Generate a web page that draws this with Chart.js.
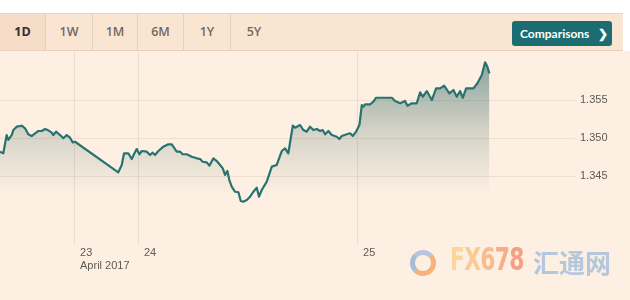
<!DOCTYPE html>
<html><head><meta charset="utf-8">
<script src="https://cdn.jsdelivr.net/npm/chart.js@4"></script>
<style>
html,body{margin:0;padding:0;width:630px;height:300px;overflow:hidden;background:#fdf0e3;font-family:"Open Sans","Liberation Sans",sans-serif}
#top{position:absolute;left:0;top:0;width:630px;height:13px;background:#fff}
#topr{position:absolute;left:623px;top:0;width:7px;height:51px;background:#fff}
#bar{position:absolute;left:0;top:13px;width:623px;height:36px;background:#fae5d2;border-top:1px solid #ecd6c2;border-bottom:1px solid #e6d0bc}
.btn{position:absolute;top:0;height:36px;line-height:36px;text-align:center;font-size:12.5px;font-weight:600;color:#726961;border-right:1px solid #e8d1bc;box-sizing:border-box}
.sel{background:#f5dcc6;color:#33302e;font-weight:700}
#cmp{position:absolute;left:512px;top:7px;width:100px;height:25px;border-radius:3px;background:#1c6d72;color:#fff;font-family:Lato,"Open Sans",sans-serif;font-weight:700;font-size:12px;line-height:25px}
#cmp span.t{position:absolute;left:8px}
#cmp span.c{position:absolute;left:86px;font-size:12px}
#wm{position:absolute;left:408px;top:245px;height:36px}
#logo{position:absolute;left:2px;top:5px;width:16px;height:16px;border-radius:50%;border:5px solid #f4b27e;border-left-color:#a9bcd6;border-top-color:#b7c6dc}
#fx{position:absolute;left:42px;top:-5px;font-family:"DejaVu Sans Condensed","DejaVu Sans",sans-serif;font-weight:bold;font-size:32px;letter-spacing:-1px;white-space:nowrap;transform:scaleX(0.76);transform-origin:left top}
#cn{position:absolute;left:125px;top:-2px;font-family:"Noto Sans CJK SC",sans-serif;font-weight:bold;font-size:26px;color:#b5c7dc;white-space:nowrap}
canvas{position:absolute;left:0;top:0}
</style></head>
<body>
<div id="top"></div>
<div id="bar">
  <div class="btn sel" style="left:0;width:46px">1D</div>
  <div class="btn" style="left:46px;width:47px">1W</div>
  <div class="btn" style="left:93px;width:45px">1M</div>
  <div class="btn" style="left:138px;width:46px">6M</div>
  <div class="btn" style="left:184px;width:47px">1Y</div>
  <div class="btn" style="left:231px;width:46px;border-right:none">5Y</div>
  <div id="cmp"><span class="t">Comparisons</span><span class="c">&#10095;</span></div>
</div>
<div id="topr"></div>
<canvas id="c" width="630" height="300"></canvas>
<div id="wm"><div id="logo"></div><div id="fx"><span style="color:#fbd69b">F</span><span style="color:#fbcb93">X</span><span style="color:#f9bb8e">6</span><span style="color:#f7ac8a">7</span><span style="color:#f5a086">8</span></div><div id="cn">汇通网</div></div>
<script>
// Trading-time axis in hours (weekend compressed), start of visible window = 0
const times = [0,0.36,0.73,0.91,1.28,1.46,1.83,2.38,2.74,3.10,3.47,3.84,4.20,4.57,4.93,5.29,5.67,5.84,6.14,6.58,6.94,7.31,7.67,7.97,8.22,
 12.96,13.34,13.59,14.06,14.43,14.68,14.98,15.27,15.53,16.08,16.44,16.73,16.99,17.35,17.90,18.44,18.82,18.99,19.36,19.73,20.02,20.46,
 21.01,21.56,21.92,22.21,22.65,22.94,23.38,23.75,24.11,24.41,24.66,24.91,25.13,25.39,25.75,26.12,26.38,26.66,27.04,27.40,27.76,28.13,
 28.38,28.68,29.23,29.78,30.32,30.87,31.23,31.59,32.08,32.33,32.88,33.24,33.61,33.97,34.33,34.71,35.07,35.36,35.62,35.98,36.35,36.90,
 37.18,37.45,37.99,38.36,38.65,39.01,39.38,39.64,39.82,40.00,40.55,40.91,41.21,41.64,42.00,42.38,42.93,43.29,43.84,44.38,44.64,45.12,
 45.66,46.03,46.32,46.76,47.31,47.78,48.22,48.66,49.24,49.68,50.05,50.41,50.71,51.07,51.87,52.31,52.79,53.15,53.40,53.62];
const rates = [1.34820,1.34799,1.35039,1.34974,1.35039,1.35105,1.35149,1.35162,1.35128,1.35049,1.35026,1.35062,1.35092,1.35092,1.35118,1.35101,1.35070,1.35039,1.35083,1.35039,1.34996,1.35039,1.35004,1.34943,1.34951,
 1.34549,1.34645,1.34799,1.34799,1.34724,1.34786,1.34855,1.34786,1.34829,1.34820,1.34776,1.34807,1.34776,1.34829,1.34886,1.34917,1.34917,1.34886,1.34820,1.34820,1.34786,1.34786,
 1.34754,1.34733,1.34724,1.34688,1.34680,1.34636,1.34733,1.34697,1.34645,1.34601,1.34513,1.34566,1.34447,1.34359,1.34293,1.34286,1.34171,1.34162,1.34184,1.34228,1.34293,1.34346,
 1.34228,1.34316,1.34426,1.34623,1.34645,1.34829,1.34864,1.34799,1.35162,1.35136,1.35171,1.35105,1.35083,1.35149,1.35105,1.35118,1.35092,1.35105,1.35049,1.35092,1.35039,1.35017,
 1.34987,1.35026,1.35049,1.35062,1.35026,1.35083,1.35171,1.35434,1.35412,1.35443,1.35443,1.35478,1.35530,1.35530,1.35530,1.35530,1.35530,1.35487,1.35457,1.35487,1.35425,1.35457,
 1.35457,1.35601,1.35543,1.35618,1.35500,1.35654,1.35654,1.35688,1.35588,1.35632,1.35543,1.35618,1.35530,1.35654,1.35654,1.35720,1.35829,1.35996,1.35938,1.35851];
const dayTickHours = [8.11, 15.12, 39.12];
const dayTickLabels = ['23', '24', '25'];
const monthLabel = 'April 2017';
const rateTicks = [1.345, 1.350, 1.355];

const points = times.map((t, i) => ({x: t, y: rates[i]}));

const xLabels = {
  id: 'xLabels',
  afterDraw(chart) {
    const c = chart.ctx, s = chart.scales.x;
    c.save();
    c.font = '11px "Liberation Sans", Arial, sans-serif';
    c.fillStyle = '#5e5955';
    c.textBaseline = 'middle';
    c.textAlign = 'left';
    dayTickHours.forEach((h, i) => {
      const px = s.getPixelForValue(h);
      c.fillText(dayTickLabels[i], px + 6, 253);
      if (i === 0) c.fillText(monthLabel, px + 6, 266);
    });
    c.restore();
  }
};

new Chart(document.getElementById('c'), {
  type: 'line',
  data: {
    datasets: [{
      data: points,
      borderColor: '#287370',
      borderWidth: 2.2,
      borderJoinStyle: 'round',
      pointRadius: 0,
      tension: 0,
      fill: 'start',
      backgroundColor(ctx) {
        const ch = ctx.chart;
        if (!ch.chartArea) return 'rgba(0,0,0,0)';
        const y = ch.scales.y;
        const g = ch.ctx.createLinearGradient(0, y.getPixelForValue(1.3605), 0, y.getPixelForValue(1.3425));
        g.addColorStop(0, 'rgba(30,98,100,0.55)');
        g.addColorStop(0.55, 'rgba(60,100,95,0.2)');
        g.addColorStop(1, 'rgba(60,100,95,0)');
        return g;
      }
    }]
  },
  options: {
    responsive: false,
    animation: false,
    layout: {padding: {top: 52, left: 0, right: 0, bottom: 0}},
    plugins: {legend: {display: false}, tooltip: {enabled: false}},
    scales: {
      x: {
        type: 'linear', min: 0, max: 63,
        grid: {color: '#eddccc', drawTicks: false},
        border: {display: false},
        ticks: {display: false},
        afterBuildTicks: s => { s.ticks = dayTickHours.map(v => ({value: v})); },
        afterFit: s => { s.height = 55; }
      },
      y: {
        position: 'right',
        min: 1.33592, max: 1.36132,
        grid: {color: '#efdfcf', drawTicks: false},
        border: {display: false},
        ticks: {
          padding: 5,
          color: '#5e5955',
          font: {family: '"Liberation Sans", Arial, sans-serif', size: 11},
          callback: v => v.toFixed(3)
        },
        afterBuildTicks: s => { s.ticks = rateTicks.map(v => ({value: v})); },
        afterFit: s => { s.width = 55; }
      }
    }
  },
  plugins: [xLabels]
});
</script>
</body></html>
